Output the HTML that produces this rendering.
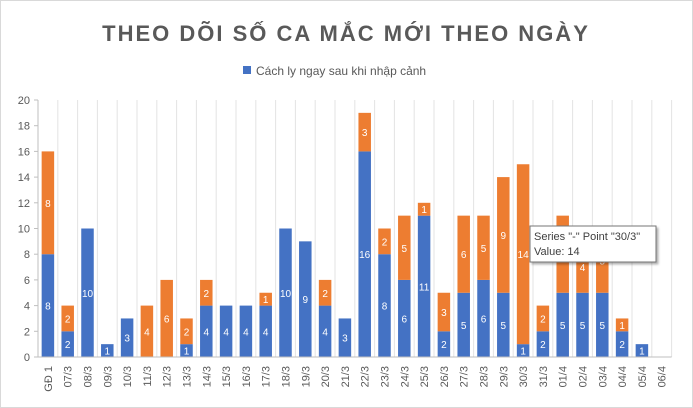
<!DOCTYPE html>
<html><head><meta charset="utf-8"><style>
body{margin:0;background:#fff;}
#wrap{position:relative;width:693px;height:408px;font-family:"Liberation Sans",sans-serif;overflow:hidden;}
</style></head><body>
<div id="wrap">
<svg id="chart" width="693" height="408" xmlns="http://www.w3.org/2000/svg">
<rect x="0.5" y="0.5" width="692" height="407" fill="#fff" stroke="#d9d9d9"/>
<text x="346" y="41" text-anchor="middle" font-size="22" font-weight="bold" fill="#595959" letter-spacing="2">THEO DÕI SỐ CA MẮC MỚI THEO NGÀY</text>
<rect x="243" y="66" width="8" height="8" fill="#4472c4"/>
<text x="256" y="75" font-size="12" fill="#595959">Cách ly ngay sau khi nhập cảnh</text>
<g id="grid"></g><g id="bars"></g><g id="axes"></g>
<g>
<rect x="530" y="226" width="126" height="36" fill="#fff" stroke="#767676" style="filter:drop-shadow(2px 2px 1px rgba(0,0,0,0.3))"/>
<text x="534" y="240" font-size="11" fill="#404040">Series "-" Point "30/3"</text>
<text x="534" y="255" font-size="11" fill="#404040">Value: 14</text>
</g>
</svg>
</div>
<script>
const categories=["GĐ 1","07/3","08/3","09/3","10/3","11/3","12/3","13/3","14/3","15/3","16/3","17/3","18/3","19/3","20/3","21/3","22/3","23/3","24/3","25/3","26/3","27/3","28/3","29/3","30/3","31/3","01/4","02/4","03/4","04/4","05/4","06/4"];
const blueValues=[8,2,10,1,3,0,0,1,4,4,4,4,10,9,4,3,16,8,6,11,2,5,6,5,1,2,5,5,5,2,1,0];
const orangeValues=[8,2,0,0,0,4,6,2,2,0,0,1,0,0,2,0,3,2,5,1,3,6,5,9,14,2,6,4,5,1,0,0];
const yTicks=[0,2,4,6,8,10,12,14,16,18,20];
const NS="http://www.w3.org/2000/svg";
const x0=38,step=19.8,y0=357,yTop=100,yMax=20,bw=12.5;
const yS=v=>y0-(v/yMax)*(y0-yTop);
const xC=i=>x0+step*(i+0.5);
function mk(tag,attrs,parent){const e=document.createElementNS(NS,tag);for(const k in attrs)e.setAttribute(k,attrs[k]);parent.appendChild(e);return e;}
const grid=document.getElementById('grid'),bars=document.getElementById('bars'),axes=document.getElementById('axes');
const xEnd=x0+step*categories.length;
for(let i=1;i<=categories.length;i++){mk('line',{x1:x0+step*i,x2:x0+step*i,y1:yTop,y2:y0,stroke:'#e3e3e3'},grid);}
mk('line',{x1:x0,x2:x0,y1:yTop,y2:y0,stroke:'#bfbfbf'},axes);
mk('line',{x1:x0,x2:xEnd,y1:y0,y2:y0,stroke:'#bfbfbf'},axes);
yTicks.forEach(t=>{
 mk('line',{x1:x0-4,x2:x0,y1:yS(t),y2:yS(t),stroke:'#bfbfbf'},axes);
 const tx=mk('text',{x:x0-8,y:yS(t)+4,'text-anchor':'end','font-size':11,fill:'#595959'},axes);tx.textContent=t;
 
 
});
categories.forEach((c,i)=>{
 const cx=xC(i);
 const b=blueValues[i],o=orangeValues[i];
 if(b>0){
  const r=mk('rect',{x:cx-bw/2,y:yS(b),width:bw,height:y0-yS(b),fill:'#4472c4'},bars);
  
  
  const t=mk('text',{x:cx,y:(yS(b)+y0)/2+4,'text-anchor':'middle','font-size':10,fill:'#fff'},bars);t.textContent=b;
  
  
 }
 if(o>0){
  const r=mk('rect',{x:cx-bw/2,y:yS(b+o),width:bw,height:yS(b)-yS(b+o),fill:'#ed7d31'},bars);
  
  
  const t=mk('text',{x:cx,y:(yS(b)+yS(b+o))/2+4,'text-anchor':'middle','font-size':10,fill:'#fff'},bars);t.textContent=o;
  
  
 }
 const lx=cx+4,ly=366;
 const t=mk('text',{x:lx,y:ly,'text-anchor':'end','font-size':11,fill:'#595959',transform:`rotate(-90 ${lx} ${ly})`},axes);t.textContent=c;
 
 
});
</script>
</body></html>
